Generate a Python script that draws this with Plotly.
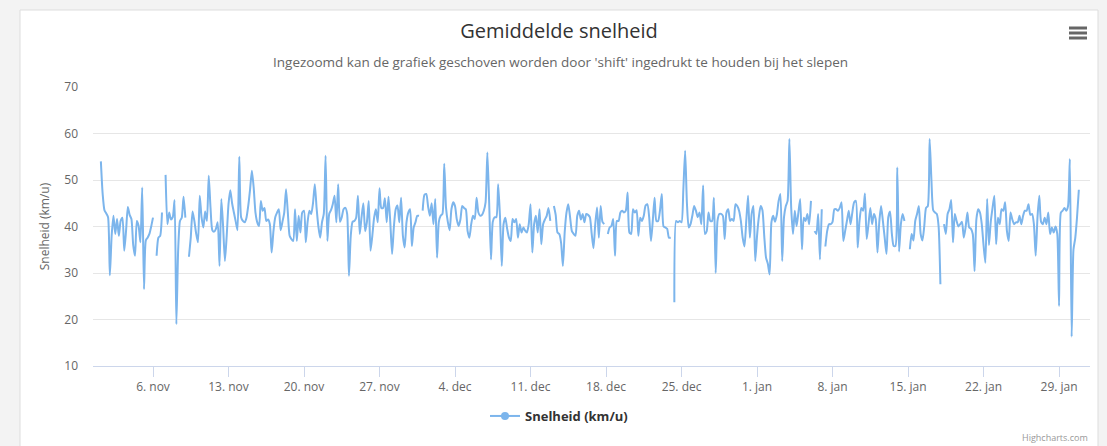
import pandas as pd
import plotly.graph_objects as go

# Average speed (km/u), one value every 4 hours; None = no measurement
nov_values = [
    None, 54.0, 47, 43.5, 42.8, 42.0, 29.5, 38, 42.3, 38.4, 41.6, 38.0,
    41.2, 41.9, 34.8, 39, 44.2, 42.5, 41.6, 36, 33.7, 41.2, 40.1, 36.6,
    48.4, 26.5, 37, 37.6, 38.4, 40, 41.9, None, 33.7, 37.6, 38.0, 43,
    None, 51.1, 40.5, 43.0, 41.5, 42, 45.7, 19.0, 35, 41.2, 41.9, 46.4,
    41.9, None, 33.5, 37.6, 43.2, 41.2, 38.5, 36.6, 46.6, 42, 39.8, 43.2,
    41.2, 50.9, 44, 39.2, 38.9, 39.5, 40.9, 31.5, 45.9, 40, 32.6, 38,
    44.8, 47.8, 45, 43.0, 41.1, 39.2, 55.0, 42, 41.2, 40.9, 41.9, 44.5,
    48, 52.0, 48.4, 43, 40.9, 40.1, 45.5, 43.4, 44, 41.2, 41.5, 40.5,
    34.4, 39, 42, 43, 43.7, 39.2, 41, 43, 48, 43, 38, 37.3,
    36.9, 43.7, 36.9, 42.3, 38.7, 43, 43.4, 36.6, 41, 43.4, 42.7, 45,
    49.1, 44, 40, 37.6, 40.9, 42.7, 55.2, 36.9, 42.7, 43.5, 44.8, 46.6,
    40.9, 49.1, 41, 42, 43.7, 44, 42.7, 29.4, 38, 41, 41.2, 41.9,
    46.6, 38.4, 42, 45, 39, 41, 45.5, 34.8, 38, 41.9, 43.7, 40.9,
    48.2, 44, 44, 46.1, 40.9, 46.4, 40.9, 34.1, 40, 43.7, 44.5, 40.9,
    46.2, 38, 35.5, 40.9, 43, 43.7, 35.8, 39.8, 40.9, 42.3, 42.3, None,
]
dec_values = [
    43.4, 46.8, 47, 44.4, 42.3, 45, 40.5, 45.9, 33.3, 41, 42.3, 42.7,
    53.5, 44, 41, 39.2, 43.7, 45.2, 44.4, 41.5, 40.1, 41.5, 44.4, 44,
    43.7, 39, 37.6, 40.5, 42.3, 41.6, 46.2, 43, 42.3, 42.5, 43.4, 45.2,
    55.9, 45, 32.9, 41, 42, 42, 49.1, 42.3, 31.5, 40.5, 41.9, 39.5,
    37.6, 36.9, 41.6, 40.9, 41.6, 37.6, 40.5, 38.7, 39.8, 39.1, 38.7, 40.5,
    44.8, 34.4, 40.5, 42.3, 38.7, 43.7, 36.2, 40.5, 41.5, 42.3, 44, 41.2,
    None, 44.4, 42.5, 38.7, 38.4, 36.5, 31.5, 38.7, 43, 44.8, 42, 39,
    38.4, 38, 42.3, 43.4, 41.5, 42.7, 40.9, 42.7, 42.5, 42, 38.5, 35.3,
    40.5, 44.1, 37.6, 44.4, 41, 40.5, None, 38.4, 39.8, 40.1, 41.6, 33.7,
    41.2, 41.2, 43, 43.4, 43, 43.4, 47.3, 38.7, 38.4, 43.7, 43, 43.5,
    38, 41.9, 41.2, 42.3, 44.5, 44.8, 42, 36.9, 41.2, 46.2, 41.2, 41.2,
    43.4, 47, 40, 39.8, 39.5, 37.6, 37.6, None, 23.7, 41.2, 40.9, 41.2,
    40.9, 47.9, 56.3, 45, 39.8, 40.5, 42.3, 44.4, 43.4, 42, 43, 40.5,
    48.8, 38.4, 39, 43, 41.2, 41.2, 46.2, 30, 41.2, 42.7, 42.7, 42.3,
    37.3, 43, 43.7, 41.2, 41.6, 41.2, 44.8, 44.4, 43.4, 41.2, 37.6, 35.7,
    41.2, 46.6, 37.6, 42.7, 44.4, 32.6,
]
jan_values = [
    38, 42, 44.4, 43.5, 38, 33.3, 32, 29.7, 40.9, 42.3, 41, 42.5,
    45.5, 47, 32.6, 42, 44.4, 45.5, 58.8, 44, 38.4, 43.4, 40.1, 43,
    45.9, 35.1, 41.9, 41.2, 42.7, 40.5, 45.5, None, 39, 38.4, 42.7, 32.9,
    43.7, None, 35.7, 39, 40.5, 40.5, 41, 43.7, 43.7, 43.4, 44, 45.2,
    36.9, 39, 41.2, 43.4, 40.5, 43, 45.2, 45.5, 35.5, 41.2, 44, 43.4,
    47.1, 37.3, 40.5, 44, 40.5, 42.7, 41.6, 34.4, 41, 44.4, 41.2, 37.6,
    34.1, 42, 43.2, 38.4, 35.8, 35.8, 52.7, 34.6, 40.5, 42.7, 41.2, None,
    None, 35.1, 38.4, 37, 41.2, 42.7, 44.4, 38.4, 37, 40, 44, 44.4,
    58.8, 50, 43.5, 43, 42.7, 40, 27.6, None, 40.5, 38.4, 42.7, 43.7,
    45.7, 36.6, 42.7, 41.2, 40, 40.5, 41, 37.6, 39.8, 43, 39.8, 39.5,
    38.4, 30.4, 41.5, 43.7, 43, 40.5, 36, 32.2, 45.9, 36, 41, 44,
    46.6, 36.2, 41.9, 40.5, 43.7, 43.4, 45.2, 39, 36.9, 43, 41.5, 40.5,
    40.9, 40.9, 42.3, 40.5, 42.3, 43.4, 43.4, 44.8, 42.5, 42.7, 40.5, 33.7,
    42, 46.6, 41, 40.5, 41.9, 40.5, 43, 38.4, 39.8, 38.7, 40, 38.4,
    22.9, 43, 43.4, 44, 43.4, 44.4, 54.5, 16.3, 35, 37.5, 42, 47.9,
]
month_starts = ["2017-11-01", "2017-12-01", "2018-01-01"]

tick_dates = ["2017-11-06", "2017-11-13", "2017-11-20", "2017-11-27", "2017-12-04",
              "2017-12-11", "2017-12-18", "2017-12-25", "2018-01-01", "2018-01-08",
              "2018-01-15", "2018-01-22", "2018-01-29"]
tick_labels = ["6. nov", "13. nov", "20. nov", "27. nov", "4. dec", "11. dec",
               "18. dec", "25. dec", "1. jan", "8. jan", "15. jan", "22. jan", "29. jan"]

times = []
values = []
for start, vals in zip(month_starts, [nov_values, dec_values, jan_values]):
    times.extend(pd.date_range(start, periods=len(vals), freq="4h"))
    values.extend(vals)

FONT = "Open Sans, Liberation Sans, sans-serif"
W, H = 1107, 446
L, R, T, B = 93, 17, 87, 80
pw, ph = W - L - R, H - T - B


def px(x):
    return (x - L) / pw


def py(y):
    return (H - B - y) / ph


fig = go.Figure()
fig.add_trace(go.Scatter(
    x=times, y=values, mode="lines", name="Snelheid (km/u)",
    line=dict(color="#7cb5ec", width=2, shape="spline", smoothing=0.6),
    connectgaps=False, showlegend=False,
))
fig.add_trace(go.Scatter(
    x=[None], y=[None], mode="lines+markers", name="Snelheid (km/u)",
    line=dict(color="#7cb5ec", width=2),
    marker=dict(color="#7cb5ec", size=8, symbol="circle"),
))

shapes = [
    dict(type="rect", xref="paper", yref="paper", layer="below",
         x0=px(20), x1=px(1098), y0=py(470), y1=py(10),
         fillcolor="white", line=dict(color="#dddddd", width=1)),
]
for yb in (28, 33, 38):
    shapes.append(dict(type="rect", xref="paper", yref="paper",
                       x0=px(1069), x1=px(1087), y0=py(yb + 1.5), y1=py(yb - 1.5),
                       fillcolor="#666666", line=dict(width=0)))

fig.update_layout(
    width=W, height=H,
    margin=dict(l=L, r=R, t=T, b=B),
    paper_bgcolor="#f3f3f3", plot_bgcolor="white",
    font=dict(family=FONT, size=12, color="#666666"),
    title=dict(text="Gemiddelde snelheid", x=559 / W, xanchor="center",
               y=1 - 31 / H, yanchor="middle",
               font=dict(family=FONT, size=20, color="#333333")),
    shapes=shapes,
    annotations=[
        dict(text="Ingezoomd kan de grafiek geschoven worden door 'shift' ingedrukt te houden bij het slepen",
             xref="paper", yref="paper", x=px(560), y=py(62), xanchor="center", yanchor="middle",
             showarrow=False, font=dict(family=FONT, size=13.5, color="#666666")),
        dict(text="Highcharts.com", xref="paper", yref="paper", x=px(1090), y=py(437),
             xanchor="right", yanchor="middle", showarrow=False,
             font=dict(family=FONT, size=9, color="#999999")),
    ],
    legend=dict(orientation="h", x=px(559), xanchor="center", y=py(416), yanchor="middle",
                font=dict(family=FONT, size=13, color="#333333", weight="bold"),
                bgcolor="rgba(0,0,0,0)"),
    showlegend=True,
    hovermode="x",
)
fig.update_xaxes(
    type="date",
    range=["2017-10-31 10:30", "2018-01-31 20:50"],
    tickvals=tick_dates, ticktext=tick_labels,
    showgrid=False, showline=True, linecolor="#ccd6eb", linewidth=1,
    ticks="outside", ticklen=10, tickcolor="#ccd6eb",
    tickfont=dict(family=FONT, size=12, color="#666666"),
    zeroline=False,
)
fig.update_yaxes(
    range=[10, 70], dtick=10, tick0=10,
    showgrid=True, gridcolor="#e6e6e6", gridwidth=1,
    showline=False, zeroline=False, ticks="",
    ticklabelstandoff=14,
    tickfont=dict(family=FONT, size=12, color="#666666"),
    title=dict(text="Snelheid (km/u)", standoff=12,
               font=dict(family=FONT, size=12, color="#666666")),
)

fig.write_html(
    "out.html",
    config={"displayModeBar": False},
    post_script="document.body.style.margin='0';document.body.style.background='#f3f3f3';",
)
